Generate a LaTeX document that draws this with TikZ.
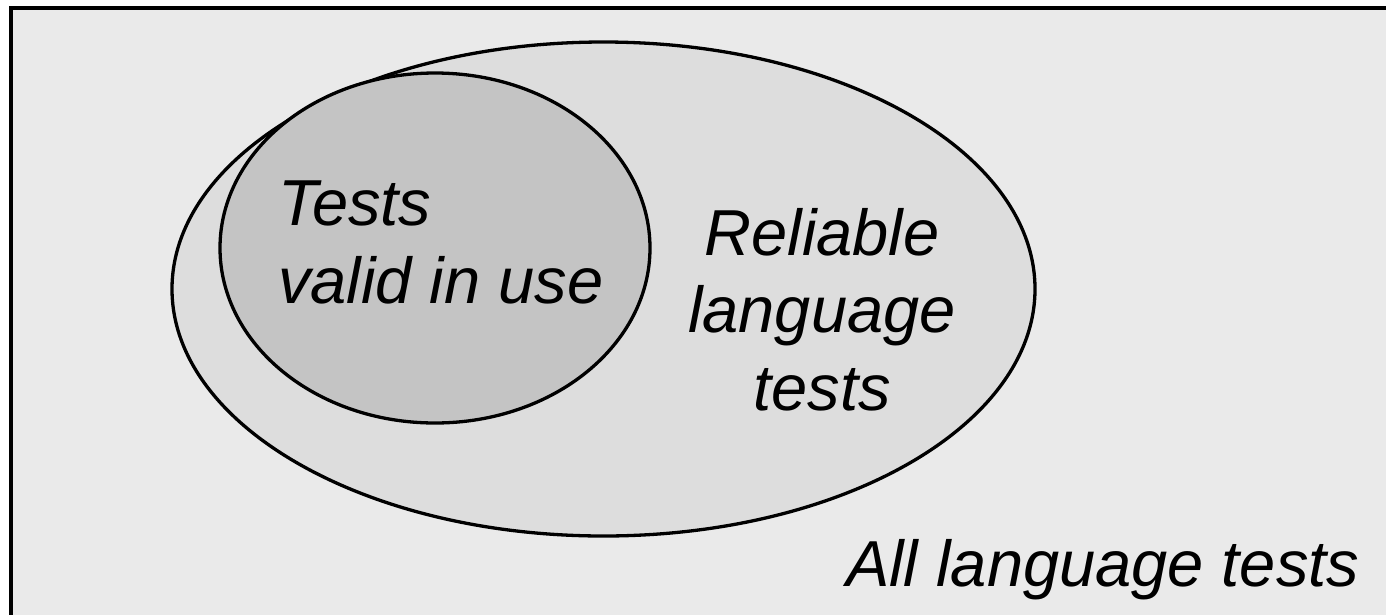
\documentclass[tikz,border=0pt]{standalone}
\usepackage{fontspec}
\setmainfont{Liberation Sans}
\begin{document}
\begin{tikzpicture}[x=1pt,y=-1pt,
  region/.style={draw=black,line width=3.3pt},
  lbl/.style={inner sep=0pt,font=\fontsize{65}{77.5}\selectfont\itshape}]
\definecolor{paper}{HTML}{EAEAEA}
\definecolor{reliable}{HTML}{DDDDDD}
\definecolor{valid}{HTML}{C4C4C4}
\useasboundingbox (0,0) rectangle (1386,614);
\clip (0,0) rectangle (1386,614);
% universe of all tests (frame runs past the right and bottom edges)
\draw[line width=4pt,fill=paper] (11.3,8.3) rectangle (1420,650);
% reliable tests
\draw[region,fill=reliable] (603.5,289) ellipse [x radius=431.5,y radius=247];
% valid tests
\draw[region,fill=valid] (435,248) ellipse [x radius=215,y radius=175];
% labels (base anchor sits on the last line)
\node[lbl,align=left,anchor=base west] (valid) at (278,303) {Tests\\valid in use};
\node[lbl,align=center,anchor=base] (rel) at (822,410) {Reliable\\language\\tests};
\node[lbl,anchor=base west] (all) at (846,586) {All language tests};
\end{tikzpicture}
\end{document}
